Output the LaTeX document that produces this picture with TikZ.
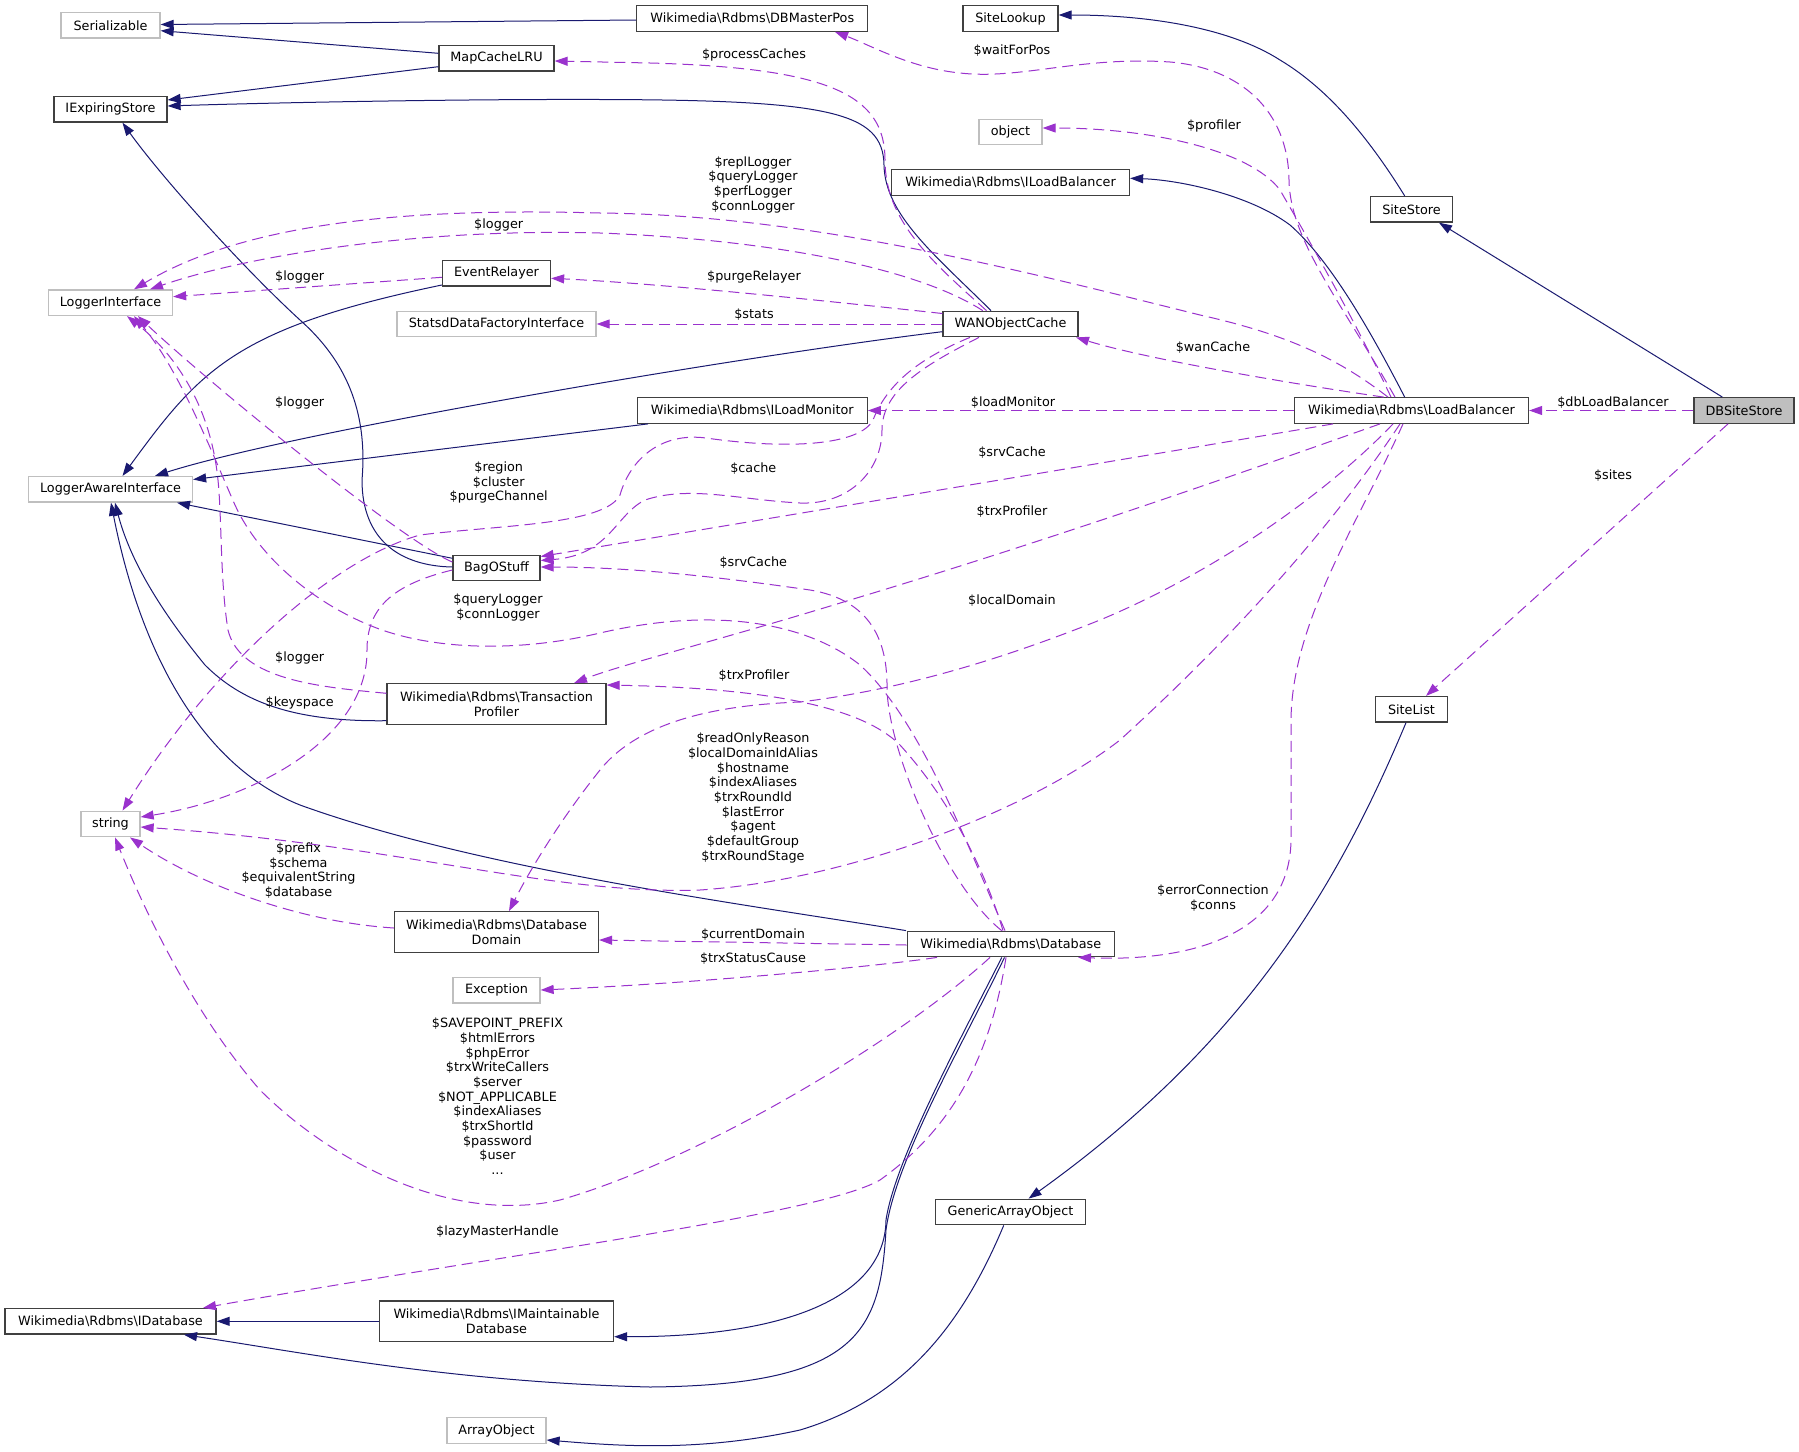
\documentclass[tikz,border=0pt]{standalone}
\usepackage{fontspec}
\setmainfont{DejaVu Sans}
\usetikzlibrary{arrows.meta}
\definecolor{mblue}{HTML}{191970}
\definecolor{dorch}{HTML}{9A32CD}
\definecolor{gbord}{HTML}{BFBFBF}
\definecolor{dbord}{HTML}{404040}
\begin{document}
\begin{tikzpicture}[x=1pt,y=-1pt,
  every node/.style={font=\fontsize{12.8}{14.65}\selectfont},
  cls/.style={draw=dbord, line width=1.3pt, fill=white, inner xsep=2pt, inner ysep=0pt, minimum height=25.5pt, align=center},
  ext/.style={cls, draw=gbord},
  two/.style={minimum height=40.5pt},
  inh/.style={draw=mblue, line width=1pt, -{Triangle[length=13pt,width=9pt]}},
  use/.style={draw=dorch, line width=1pt, dash pattern=on 11pt off 6pt, -{Triangle[length=13pt,width=9pt]}},
  lbl/.style={align=center, inner sep=0pt}
]
\fill[white] (0,0) rectangle (1799,1451);
\useasboundingbox (0,0) rectangle (1799,1451);

% ---------- nodes ----------
\node[ext, minimum width=99pt] (ser) at (110.5,25.3) {Serializable};
\node[cls, minimum width=113pt] (ies) at (110.5,109.3) {IExpiringStore};
\node[ext, minimum width=124pt] (li) at (110.5,302.7) {LoggerInterface};
\node[ext, minimum width=164pt] (lai) at (110.5,489.3) {LoggerAwareInterface};
\node[ext, minimum width=59pt] (str) at (110.5,824) {string};
\node[cls, minimum width=211pt] (idb) at (110.5,1321.3) {Wikimedia\textbackslash Rdbms\textbackslash IDatabase};
\node[cls, minimum width=115pt] (mcl) at (496.5,58.3) {MapCacheLRU};
\node[cls, minimum width=108pt] (er) at (496.5,273.3) {EventRelayer};
\node[ext, minimum width=199pt] (sdf) at (496.5,324) {StatsdDataFactoryInterface};
\node[cls, minimum width=87pt] (bos) at (496.5,568) {BagOStuff};
\node[cls, two, minimum width=219pt] (tp) at (496.5,704) {Wikimedia\textbackslash Rdbms\textbackslash Transaction\\Profiler};
\node[cls, two, minimum width=204pt] (dd) at (496.5,932) {Wikimedia\textbackslash Rdbms\textbackslash Database\\Domain};
\node[ext, minimum width=87pt] (exc) at (496.5,990.3) {Exception};
\node[cls, two, minimum width=234pt] (imd) at (496.5,1321.3) {Wikimedia\textbackslash Rdbms\textbackslash IMaintainable\\Database};
\node[ext, minimum width=99pt] (ao) at (496.5,1430.5) {ArrayObject};
\node[cls, minimum width=231pt] (dmp) at (752.3,18.5) {Wikimedia\textbackslash Rdbms\textbackslash DBMasterPos};
\node[cls, minimum width=230pt] (ilm) at (752.3,410.5) {Wikimedia\textbackslash Rdbms\textbackslash ILoadMonitor};
\node[cls, minimum width=95pt] (sl) at (1010.5,18.5) {SiteLookup};
\node[ext, minimum width=63pt] (obj) at (1010.5,132) {object};
\node[cls, minimum width=238pt] (ilb) at (1010.5,182.5) {Wikimedia\textbackslash Rdbms\textbackslash ILoadBalancer};
\node[cls, minimum width=135pt] (wan) at (1010.5,324) {WANObjectCache};
\node[cls, minimum width=207pt] (db) at (1010.8,944) {Wikimedia\textbackslash Rdbms\textbackslash Database};
\node[cls, minimum width=150pt] (gao) at (1010.5,1212) {GenericArrayObject};
\node[cls, minimum width=82pt] (ss) at (1411.5,209.3) {SiteStore};
\node[cls, minimum width=234pt] (lb) at (1411.5,410.5) {Wikimedia\textbackslash Rdbms\textbackslash LoadBalancer};
\node[cls, minimum width=72pt] (slist) at (1411.5,709.3) {SiteList};
\node[cls, fill=gbord, minimum width=100pt] (dbs) at (1744,410.5) {DBSiteStore};

% ---------- inheritance (solid) ----------
\draw[inh] (dmp.west |- 0,20) -- (ser.east |- 0,24.5);
\draw[inh] (mcl.west |- 0,53.3) -- (ser.east |- 0,30.7);
\draw[inh] (mcl.west |- 0,66.7) -- (ies.east |- 0,100);
\draw[inh] (991,0 |- wan.north) .. controls (935,255) and (885,215) .. (884,165) .. controls (883,112) and (830,100) .. (600,99.5) .. controls (450,99) and (260,103) .. (ies.east |- 0,106);
\draw[inh] (bos.west |- 0,567) .. controls (400,566) and (362,540) .. (362,480) .. controls (368,410) and (345,360) .. (300,320) .. controls (240,265) and (160,175) .. (122.5,0 |- ies.south);
\draw[inh] (er.west |- 0,285) .. controls (235,328) and (200,370) .. (122.5,0 |- lai.north);
\draw[inh] (wan.west |- 0,331.7) .. controls (750,355) and (300,430) .. (155,0 |- lai.north);
\draw[inh] (648,0 |- ilm.south) -- (lai.east |- 0,479.5);
\draw[inh] (bos.west |- 0,558.3) -- (177,0 |- lai.south);
\draw[inh] (tp.west |- 0,720.7) .. controls (290,722) and (240,700) .. (205,665) .. controls (160,610) and (130,560) .. (115,0 |- lai.south);
\draw[inh] (906,0 |- db.north) .. controls (750,905) and (480,870) .. (300,805) .. controls (200,765) and (140,650) .. (111,0 |- lai.south);
\draw[inh] (1404.7,0 |- lb.north) .. controls (1370,330) and (1330,260) .. (1290,225) .. controls (1250,195) and (1180,180) .. (ilb.east |- 0,178.3);
\draw[inh] (1404.7,0 |- ss.north) .. controls (1370,140) and (1330,90) .. (1280,60) .. controls (1230,28) and (1150,15) .. (sl.east |- 0,15);
\draw[inh] (1722.4,0 |- dbs.north) -- (1439,0 |- ss.south);
\draw[inh] (1001.8,0 |- db.south) .. controls (960,1040) and (895,1160) .. (886,1220) .. controls (885,1300) and (780,1337) .. (imd.east |- 0,1336.7);
\draw[inh] (1004.5,0 |- db.south) .. controls (965,1040) and (895,1160) .. (886,1230) .. controls (880,1330) and (860,1385) .. (650,1387) .. controls (450,1382) and (300,1352) .. (184,0 |- idb.south);
\draw[inh] (imd.west) -- (idb.east);
\draw[inh] (1406,0 |- slist.south) .. controls (1340,880) and (1250,1040) .. (1028.6,0 |- gao.north);
\draw[inh] (1003.7,0 |- gao.south) .. controls (960,1330) and (900,1400) .. (800,1430) .. controls (700,1452) and (620,1446) .. (ao.east |- 0,1440);

% ---------- usage (dashed) ----------
\draw[use] (986.5,0 |- wan.north) .. controls (930,260) and (885,220) .. (885,160) .. controls (885,95) and (830,68) .. (650,63) -- (mcl.east |- 0,61);
\draw[use] (1395,0 |- lb.north) .. controls (1340,300) and (1290,240) .. (1289,180) .. controls (1288,110) and (1240,68) .. (1170,62) .. controls (1080,56) and (1020,80) .. (960,73) .. controls (910,68) and (870,45) .. (835,0 |- dmp.south);
\draw[use] (1391,0 |- lb.north) .. controls (1350,310) and (1300,225) .. (1280,190) .. controls (1250,150) and (1150,128) .. (obj.east |- 0,128);
\draw[use] (1388,0 |- lb.north) .. controls (1340,360) and (1290,335) .. (1200,315) .. controls (1000,265) and (800,215) .. (600,213) .. controls (420,208) and (250,220) .. (134,0 |- li.north);
\draw[use] (982.7,0 |- wan.north) .. controls (920,270) and (780,240) .. (600,233) .. controls (420,228) and (250,255) .. (150,0 |- li.north);
\draw[use] (er.west |- 0,277.3) -- (li.east |- 0,296.7);
\draw[use] (wan.west |- 0,313.5) .. controls (800,298) and (650,283) .. (er.east |- 0,278.3);
\draw[use] (wan.west) -- (sdf.east);
\draw[use] (1383.7,0 |- lb.north) .. controls (1300,385) and (1150,360) .. (1076,0 |- wan.south);
\draw[use] (lb.west) -- (ilm.east);
\draw[use] (dbs.west) -- (lb.east);
\draw[use] (1728,0 |- dbs.south) -- (1426,0 |- slist.north);
\draw[use] (bos.west |- 0,562) .. controls (400,540) and (200,375) .. (138,0 |- li.south);
\draw[use] (tp.west |- 0,693.3) .. controls (320,687) and (240,680) .. (228,630) .. controls (220,580) and (222,520) .. (218,480) .. controls (210,400) and (170,350) .. (127,0 |- li.south);
\draw[use] (1005,0 |- db.north) .. controls (965,840) and (920,720) .. (860,665) .. controls (810,625) and (720,605) .. (600,633) .. controls (520,652) and (440,650) .. (382,630) .. controls (320,608) and (260,560) .. (235,505) .. controls (215,460) and (180,370) .. (134,0 |- li.south);
\draw[use] (1001.7,0 |- db.north) .. controls (950,890) and (890,760) .. (887,690) .. controls (888,640) and (870,600) .. (810,590) .. controls (740,580) and (640,567) .. (bos.east |- 0,567);
\draw[use] (1003,0 |- db.north) .. controls (985,870) and (950,800) .. (900,745) .. controls (860,705) and (760,688) .. (tp.east |- 0,685);
\draw[use] (1380,0 |- lb.south) .. controls (1250,470) and (1050,540) .. (850,600) .. controls (720,640) and (620,665) .. (574,0 |- tp.north);
\draw[use] (1333,0 |- lb.south) .. controls (1150,455) and (850,505) .. (bos.east |- 0,556.5);
\draw[use] (979,0 |- wan.south) .. controls (925,365) and (882,390) .. (882,430) .. controls (882,470) and (850,505) .. (800,503) .. controls (740,500) and (690,485) .. (645,500) .. controls (615,515) and (610,555) .. (bos.east |- 0,560.5);
\draw[use] (970,0 |- wan.south) .. controls (910,362) and (885,390) .. (873,420) .. controls (860,445) and (790,450) .. (706,438) .. controls (660,432) and (630,460) .. (620,495) .. controls (605,525) and (500,525) .. (420,535) .. controls (330,560) and (210,670) .. (122.5,0 |- str.north);
\draw[use] (bos.west |- 0,570) .. controls (390,585) and (367,610) .. (367,650) .. controls (368,740) and (250,800) .. (str.east |- 0,817);
\draw[use] (dd.west |- 0,928) .. controls (300,922) and (200,885) .. (130,0 |- str.south);
\draw[use] (1393,0 |- lb.south) .. controls (1330,490) and (1220,570) .. (1100,620) .. controls (1000,660) and (900,690) .. (800,702) .. controls (720,705) and (640,720) .. (600,770) .. controls (560,820) and (530,870) .. (509,0 |- dd.north);
\draw[use] (1400,0 |- lb.south) .. controls (1330,530) and (1230,640) .. (1120,740) .. controls (1030,810) and (850,880) .. (700,890) .. controls (550,895) and (400,845) .. (str.east |- 0,827);
\draw[use] (1403,0 |- lb.south) .. controls (1360,520) and (1292,620) .. (1291,720) -- (1291,840) .. controls (1290,930) and (1200,962) .. (1078,0 |- db.south);
\draw[use] (db.west |- 0,945) -- (dd.east |- 0,940);
\draw[use] (937,0 |- db.south) .. controls (880,966) and (700,983) .. (exc.east |- 0,990);
\draw[use] (990,0 |- db.south) .. controls (900,1040) and (700,1160) .. (560,1200) .. controls (450,1225) and (330,1160) .. (260,1090) .. controls (190,1010) and (140,900) .. (115,0 |- str.south);
\draw[use] (1006,0 |- db.south) .. controls (990,1060) and (950,1130) .. (880,1180) .. controls (820,1215) and (500,1255) .. (203,0 |- idb.north);

% ---------- labels ----------
\node[lbl] (t1) at (754,55.3) {\$processCaches};
\node[lbl] (t2) at (1012,50.7) {\$waitForPos};
\node[lbl] (t3) at (1214,126) {\$profiler};
\node[lbl] (t4) at (753,184.7) {\$replLogger\\\$queryLogger\\\$perfLogger\\\$connLogger};
\node[lbl] (t5) at (498.7,225) {\$logger};
\node[lbl] (t6) at (299.7,276.7) {\$logger};
\node[lbl] (t7) at (754,276.7) {\$purgeRelayer};
\node[lbl] (t8) at (754,315) {\$stats};
\node[lbl] (t9) at (1213,347.6) {\$wanCache};
\node[lbl] (t10) at (299.7,402.7) {\$logger};
\node[lbl] (t11) at (1013,402.7) {\$loadMonitor};
\node[lbl] (t12) at (1613,402.7) {\$dbLoadBalancer};
\node[lbl] (t13) at (1012,452.3) {\$srvCache};
\node[lbl] (t14) at (753.3,468.3) {\$cache};
\node[lbl] (t15) at (498.7,482.7) {\$region\\\$cluster\\\$purgeChannel};
\node[lbl] (t16) at (1613,476) {\$sites};
\node[lbl] (t17) at (1012,511.7) {\$trxProfiler};
\node[lbl] (t18) at (753.3,562.3) {\$srvCache};
\node[lbl] (t19) at (498,607.3) {\$queryLogger\\\$connLogger};
\node[lbl] (t20) at (1012,600.7) {\$localDomain};
\node[lbl] (t21) at (299.7,658.3) {\$logger};
\node[lbl] (t22) at (754,675.7) {\$trxProfiler};
\node[lbl] (t23) at (299.7,703.3) {\$keyspace};
\node[lbl] (t24) at (753,798) {\$readOnlyReason\\\$localDomainIdAlias\\\$hostname\\\$indexAliases\\\$trxRoundId\\\$lastError\\\$agent\\\$defaultGroup\\\$trxRoundStage};
\node[lbl] (t25) at (298.5,870.5) {\$prefix\\\$schema\\\$equivalentString\\\$database};
\node[lbl] (t26) at (1213,897.8) {\$errorConnection\\\$conns};
\node[lbl] (t27) at (753,935) {\$currentDomain};
\node[lbl] (t28) at (753,958.3) {\$trxStatusCause};
\node[lbl] (t29) at (497.5,1096.3) {\$SAVEPOINT\_PREFIX\\\$htmlErrors\\\$phpError\\\$trxWriteCallers\\\$server\\\$NOT\_APPLICABLE\\\$indexAliases\\\$trxShortId\\\$password\\\$user\\...};
\node[lbl] (t30) at (497.5,1231.7) {\$lazyMasterHandle};
\end{tikzpicture}
\end{document}
